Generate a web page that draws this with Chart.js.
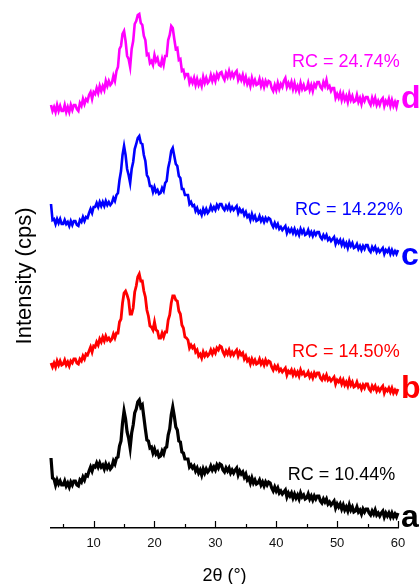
<!DOCTYPE html>
<html>
<head>
<meta charset="utf-8">
<script src="https://cdn.jsdelivr.net/npm/chart.js@4"></script>
<style>
html, body { margin:0; padding:0; background:#fff; }
#wrap { width:420px; height:584px; }
</style>
</head>
<body>
<div id="wrap"><canvas id="xrdChart" width="420" height="584"></canvas></div>
<script>
////////////////////// DATA //////////////////////
// one row = 2 degrees
var twoTheta = [3,3.25,3.5,3.75,4,4.25,4.5,4.75,
	5,5.25,5.5,5.75,6,6.25,6.5,6.75,
	7,7.25,7.5,7.75,8,8.25,8.5,8.75,
	9,9.25,9.5,9.75,10,10.25,10.5,10.75,
	11,11.25,11.5,11.75,12,12.25,12.5,12.75,
	13,13.25,13.5,13.75,14,14.25,14.5,14.75,
	15,15.25,15.5,15.75,16,16.25,16.5,16.75,
	17,17.25,17.5,17.75,18,18.25,18.5,18.75,
	19,19.25,19.5,19.75,20,20.25,20.5,20.75,
	21,21.25,21.5,21.75,22,22.25,22.5,22.75,
	23,23.25,23.5,23.75,24,24.25,24.5,24.75,
	25,25.25,25.5,25.75,26,26.25,26.5,26.75,
	27,27.25,27.5,27.75,28,28.25,28.5,28.75,
	29,29.25,29.5,29.75,30,30.25,30.5,30.75,
	31,31.25,31.5,31.75,32,32.25,32.5,32.75,
	33,33.25,33.5,33.75,34,34.25,34.5,34.75,
	35,35.25,35.5,35.75,36,36.25,36.5,36.75,
	37,37.25,37.5,37.75,38,38.25,38.5,38.75,
	39,39.25,39.5,39.75,40,40.25,40.5,40.75,
	41,41.25,41.5,41.75,42,42.25,42.5,42.75,
	43,43.25,43.5,43.75,44,44.25,44.5,44.75,
	45,45.25,45.5,45.75,46,46.25,46.5,46.75,
	47,47.25,47.5,47.75,48,48.25,48.5,48.75,
	49,49.25,49.5,49.75,50,50.25,50.5,50.75,
	51,51.25,51.5,51.75,52,52.25,52.5,52.75,
	53,53.25,53.5,53.75,54,54.25,54.5,54.75,
	55,55.25,55.5,55.75,56,56.25,56.5,56.75,
	57,57.25,57.5,57.75,58,58.25,58.5,58.75,
	59,59.25,59.5,59.75,60];

// d (magenta), stacked intensity
var intensityD = [423,417,421,416,423,417,422,417,
	417,423,416,421,416,423,418,423,
	423,419,417,425,422,429,424,429,
	427,433,436,429,436,434,440,435,
	442,437,442,438,447,442,447,443,
	445,452,447,457,461,479,482,494,
	497,487,472,469,461,479,487,504,
	507,513,514,505,503,492,488,473,
	474,465,467,463,473,467,470,463,
	462,469,463,472,472,488,493,502,
	500,489,479,480,468,469,457,458,
	451,454,454,445,449,445,450,443,
	449,443,447,442,451,445,450,445,
	447,453,447,452,447,454,450,455,
	456,451,448,455,451,457,451,455,
	451,455,457,448,452,448,453,446,
	451,444,448,442,450,444,448,443,
	444,449,442,447,441,447,443,447,
	446,440,437,443,438,445,439,444,
	441,447,450,441,445,441,446,439,
	445,438,442,437,445,439,443,438,
	439,445,438,443,437,444,441,446,
	446,441,439,446,442,448,440,442,
	437,440,440,430,434,430,435,428,
	434,428,432,426,434,428,432,426,
	427,433,426,430,424,431,427,431,
	431,426,423,430,425,430,423,427,
	423,428,430,422,427,424,429,422,
	428,422,426,421,428];

// c (blue)
var intensityC = [324,308,309,304,309,305,309,304,
	304,308,304,306,302,307,303,307,
	307,303,302,308,306,311,307,311,
	310,315,319,315,321,321,325,321,
	326,322,326,322,327,323,326,323,
	325,330,327,333,335,348,357,373,
	382,373,359,353,345,359,366,379,
	384,390,392,385,384,373,367,353,
	350,342,342,336,341,336,338,334,
	335,340,337,345,347,360,367,377,
	380,372,364,362,352,350,339,339,
	333,333,333,324,326,322,323,317,
	320,315,317,313,319,315,319,315,
	317,322,318,321,318,323,320,324,
	324,320,318,322,319,323,318,321,
	318,320,322,315,319,316,318,313,
	316,311,313,308,314,309,312,307,
	308,312,307,310,306,310,307,310,
	309,304,301,305,301,304,299,301,
	298,300,302,295,299,296,299,295,
	299,294,297,293,299,295,298,293,
	294,298,293,296,292,296,293,296,
	296,291,289,293,290,293,288,290,
	287,289,291,284,288,285,288,283,
	287,282,285,280,286,282,285,280,
	281,284,279,282,278,282,279,283,
	283,278,276,281,278,281,276,279,
	276,278,280,274,278,276,279,274,
	278,274,277,274,278];

// b (red)
var intensityB = [165,161,165,161,167,163,167,163,
	164,168,163,166,162,167,165,169,
	169,165,164,169,167,172,169,174,
	173,177,181,176,182,181,186,183,
	189,186,191,187,192,188,190,187,
	189,194,190,195,195,206,209,225,
	235,237,233,228,214,214,220,236,
	242,251,254,247,247,237,231,218,
	212,202,201,198,206,198,197,190,
	190,195,191,196,196,208,213,225,
	232,232,228,227,217,214,203,200,
	191,190,188,180,183,180,182,176,
	178,172,174,170,176,172,175,172,
	174,178,174,178,175,180,178,182,
	181,176,173,177,174,178,173,176,
	173,176,178,172,176,173,175,169,
	172,167,169,164,169,165,168,164,
	165,169,164,167,163,168,164,167,
	166,161,158,162,159,162,157,159,
	156,158,160,153,157,155,158,153,
	157,153,156,152,158,154,156,152,
	153,156,151,154,150,155,152,155,
	155,150,148,152,149,153,148,150,
	147,149,151,144,148,146,149,144,
	148,143,146,142,148,143,146,141,
	142,146,141,143,139,143,140,144,
	144,139,137,142,139,142,137,140,
	137,140,142,135,139,137,140,136,
	140,135,138,135,139];

// a (black)
var intensityA = [70,50,49,43,48,44,47,43,
	43,47,42,45,41,46,43,47,
	47,43,42,48,46,51,48,53,
	52,57,61,57,62,61,65,61,
	65,61,63,59,64,60,63,59,
	61,67,64,70,71,82,87,105,
	117,109,96,90,80,95,103,115,
	119,126,128,121,123,111,99,88,
	87,80,81,75,79,74,76,71,
	72,77,74,80,81,93,99,113,
	121,112,101,98,87,86,76,75,
	69,69,69,61,63,60,62,57,
	60,55,58,53,59,55,59,56,
	58,62,58,61,58,63,60,64,
	63,58,56,60,57,60,55,58,
	55,58,60,53,57,54,56,51,
	54,48,50,45,50,45,48,44,
	45,48,43,46,42,46,43,46,
	45,40,37,41,37,40,35,37,
	34,36,38,31,35,32,35,30,
	34,30,33,29,35,31,33,29,
	30,34,29,32,28,32,29,32,
	32,27,25,29,26,29,24,26,
	23,25,27,20,24,21,24,19,
	23,18,21,17,23,18,21,16,
	17,21,16,18,14,19,16,19,
	19,15,13,17,14,18,13,15,
	12,15,17,11,15,12,15,11,
	15,11,14,11,15];

var sampleNames = ["d","c","b","a"];
var rcValues = ["RC = 24.74%","RC = 14.22%","RC = 14.50%","RC = 10.44%"];
var xMajorTicks = [10,20,30,40,50,60];
var xMinorTicks = [5,15,25,35,45,55];

var lineColors = ["#ff00ff","#0000ff","#ff0000","#000000"];
var lineWidths = [2.6,2.6,2.8,3.2];

function toPoints(arr)
{
	return twoTheta.map(function(t, i){ return {x: t, y: arr[i]}; });
}

// label spots, in axis units: [2theta, intensity]
var rcSpots = [[42.6,466],[43.1,318],[42.6,176],[41.9,53]];
var letterBase = [420,263,130,1];

var xrdExtras =
{
	id: "xrdExtras",
	afterDraw: function(chart)
	{
		var ctx = chart.ctx;
		var xs = chart.scales.x;
		var ys = chart.scales.y;
		var base = xs.top;
		ctx.save();
		ctx.strokeStyle = "#000";
		ctx.lineWidth = 1.2;
		xMajorTicks.forEach(function(v){
			var px = Math.round(xs.getPixelForValue(v)) + 0.5;
			ctx.beginPath(); ctx.moveTo(px, base); ctx.lineTo(px, base - 7); ctx.stroke();
		});
		xMinorTicks.forEach(function(v){
			var px = Math.round(xs.getPixelForValue(v)) + 0.5;
			ctx.beginPath(); ctx.moveTo(px, base); ctx.lineTo(px, base - 4); ctx.stroke();
		});

		ctx.textAlign = "left";
		ctx.textBaseline = "middle";
		ctx.font = "18px Arial, 'Liberation Sans', sans-serif";
		for (var i = 0; i < rcValues.length; i++)
		{
			ctx.fillStyle = lineColors[i];
			ctx.fillText(rcValues[i], xs.getPixelForValue(rcSpots[i][0]), ys.getPixelForValue(rcSpots[i][1]));
		}

		ctx.textBaseline = "alphabetic";
		ctx.font = "bold 32px Arial, 'Liberation Sans', sans-serif";
		for (var j = 0; j < sampleNames.length; j++)
		{
			ctx.fillStyle = lineColors[j];
			ctx.fillText(sampleNames[j], xs.getPixelForValue(60) + 3, ys.getPixelForValue(letterBase[j]));
		}
		ctx.restore();
	}
};

var xrdChart = new Chart("xrdChart",
{
	type: "line",
	data:
	{
		datasets:
		[
			{ label: "d", data: toPoints(intensityD), borderColor: lineColors[0], borderWidth: lineWidths[0] },
			{ label: "c", data: toPoints(intensityC), borderColor: lineColors[1], borderWidth: lineWidths[1] },
			{ label: "b", data: toPoints(intensityB), borderColor: lineColors[2], borderWidth: lineWidths[2] },
			{ label: "a", data: toPoints(intensityA), borderColor: lineColors[3], borderWidth: lineWidths[3] }
		]
	},
	options:
	{
		responsive: false,
		devicePixelRatio: 1,
		animation: false,
		clip: false,
		datasets: { line: { pointRadius: 0, tension: 0, clip: false } },
		layout: { padding: { top: 24, right: 22, bottom: 0, left: 0 } },
		plugins:
		{
			legend: { display: false },
			tooltip: { enabled: false }
		},
		scales:
		{
			x:
			{
				type: "linear",
				min: 3,
				max: 60,
				grid: { display: false, drawTicks: false },
				border: { display: true, color: "#000", width: 1.5 },
				ticks: { color: "#111", padding: 8, font: { family: "Arial, 'Liberation Sans'", size: 13 } },
				afterBuildTicks: function(s){ s.ticks = xMajorTicks.map(function(v){ return {value: v}; }); },
				afterFit: function(s){ s.height = 56; },
				title:
				{
					display: true,
					text: "2θ (°)",
					color: "#000",
					font: { family: "Arial, 'Liberation Sans'", size: 18, lineHeight: 1 },
					padding: { top: 0, bottom: -1 }
				}
			},
			y:
			{
				min: 0,
				max: 504,
				grid: { display: false },
				border: { display: false },
				ticks: { display: false },
				afterFit: function(s){ s.width = 51; },
				title:
				{
					display: true,
					text: "Intensity (cps)",
					color: "#000",
					font: { family: "Arial, 'Liberation Sans'", size: 22 },
					padding: { top: 12, bottom: 0 }
				}
			}
		}
	},
	plugins: [xrdExtras]
});
</script>
</body>
</html>
